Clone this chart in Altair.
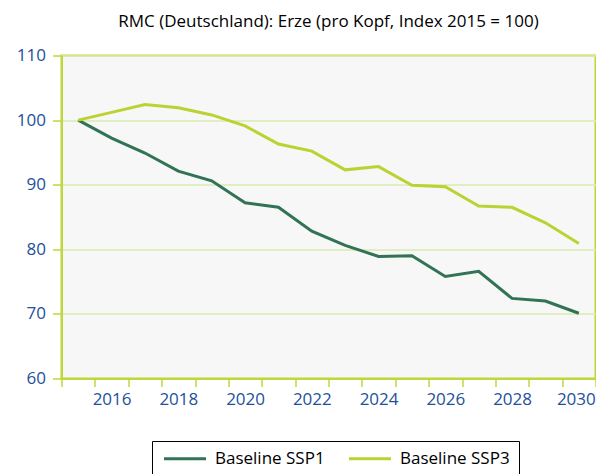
import altair as alt
import pandas as pd

years = list(range(2015, 2031))
ssp1 = [100.0, 97.2, 94.9, 92.1, 90.6, 87.2, 86.5, 82.8, 80.6, 78.9, 79.0, 75.8, 76.6, 72.4, 72.0, 70.1]
ssp3 = [100.0, 101.2, 102.4, 101.9, 100.8, 99.1, 96.3, 95.2, 92.3, 92.8, 89.9, 89.7, 86.7, 86.5, 84.1, 80.9]
series_names = ["Baseline SSP1", "Baseline SSP3"]
series_colors = ["#317354", "#BBD232"]
y_ticks = [60, 70, 80, 90, 100, 110]
title_text = "RMC (Deutschland): Erze (pro Kopf, Index 2015 = 100)"

rows = []
for name, vals in zip(series_names, [ssp1, ssp3]):
    for yr, v in zip(years, vals):
        rows.append({"Jahr": yr, "Wert": v, "Szenario": name})
df = pd.DataFrame(rows)

LIME = "#BED73A"
BLUE = "#23509B"
FONT = "Open Sans"

chart = alt.Chart(df).mark_line(strokeWidth=3).encode(
    x=alt.X(
        "Jahr:O",
        bandPosition=0.5,
        scale=alt.Scale(type="band", paddingInner=0, paddingOuter=0),
        axis=alt.Axis(
            title=None,
            tickBand="extent",
            labelAngle=0,
            labelExpr="datum.value % 2 == 0 ? datum.label : ''",
            labelOverlap=False,
            labelFont=FONT,
            labelFontSize=17,
            labelColor=BLUE,
            labelPadding=5,
            labelOffset={"condition": {"test": "datum.value == 2030", "value": -3}, "value": 0},
            domainColor=LIME,
            domainWidth=2,
            tickColor=LIME,
            tickWidth=1.5,
            tickSize=8,
            grid=False,
        ),
    ),
    y=alt.Y(
        "Wert:Q",
        scale=alt.Scale(domain=[60, 110], nice=False, zero=False),
        axis=alt.Axis(
            title=None,
            values=y_ticks,
            labelFont=FONT,
            labelFontSize=17,
            labelColor=BLUE,
            labelPadding=7,
            domainColor=LIME,
            domainWidth=2,
            tickColor=LIME,
            tickWidth=1.5,
            tickSize=9,
            grid=True,
            gridColor="#D8EBB3",
            gridWidth=1.5,
        ),
    ),
    color=alt.Color(
        "Szenario:N",
        scale=alt.Scale(domain=series_names, range=series_colors),
        legend=alt.Legend(
            title=None,
            orient="none",
            legendX=90.5,
            legendY=385.5,
            direction="horizontal",
            symbolType="M-1.375,0H9.125",
            symbolSize=64,
            symbolStrokeWidth=3,
            labelFont=FONT,
            labelFontSize=17,
            labelColor="black",
            labelOffset=37,
            columnPadding=18,
            padding=9,
            strokeColor="black",
            fillColor="white",
        ),
    ),
).properties(
    width=534,
    height=323,
    padding={"left": 53.5, "top": 47.5, "right": 0.5, "bottom": 100},
    autosize=alt.AutoSizeParams(type="none"),
    title=alt.TitleParams(
        text=title_text,
        font=FONT,
        fontSize=17,
        fontWeight="normal",
        color="black",
        anchor="middle",
        frame="group",
        baseline="alphabetic",
        offset=2.5,
    ),
).configure_view(
    fill="#F7F7F7",
    stroke=LIME,
    strokeWidth=2,
)

chart.save("out.html", embed_options={"renderer": "svg", "actions": False})
